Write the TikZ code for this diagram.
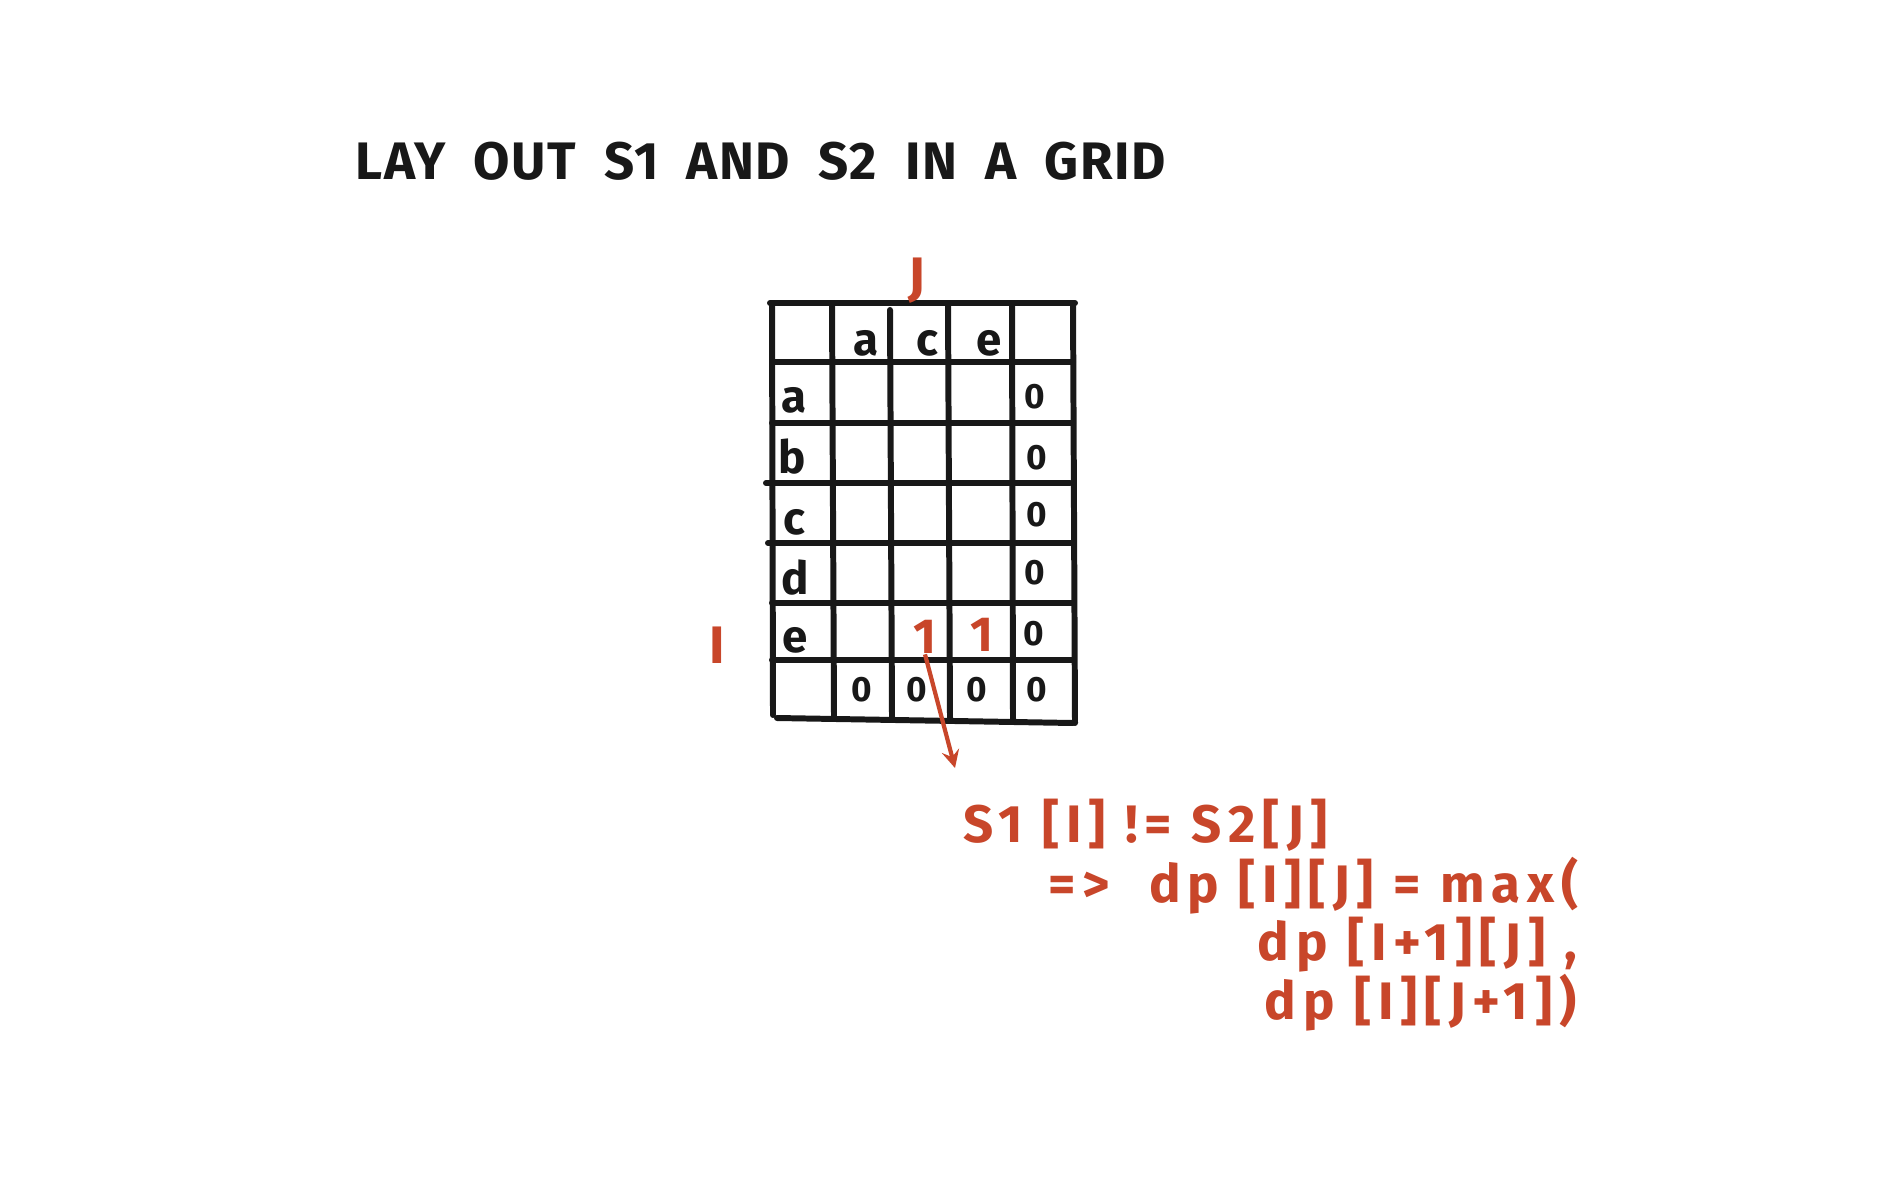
\documentclass[tikz,border=0pt]{standalone}
\usepackage{fontspec}
\setmainfont{Fira Sans}
\newfontfamily\handfont[LetterSpace=13]{Fira Sans}
\newfontfamily\headfont[LetterSpace=3]{Fira Sans}
\usepackage{xcolor}
\usetikzlibrary{arrows,positioning}
\definecolor{inkred}{RGB}{200,70,42}
\definecolor{inkblack}{RGB}{24,24,24}

\begin{document}
\begin{tikzpicture}[
    x=0.01cm, y=-0.01cm,
    title/.style={font=\headfont\fontsize{15}{18}\selectfont\bfseries, text=inkblack, inner sep=0pt, anchor=west},
    cellchar/.style={font=\fontsize{13}{15}\selectfont\bfseries, text=inkblack, inner sep=0pt},
    zero/.style={font=\fontsize{10}{12}\selectfont\bfseries, text=inkblack, inner sep=0pt},
    hit/.style={font=\fontsize{14}{16}\selectfont\bfseries, text=inkred, inner sep=0pt},
    index/.style={font=\fontsize{15}{18}\selectfont\bfseries, text=inkred, inner sep=0pt},
    note/.style={font=\handfont\fontsize{15}{18}\selectfont\bfseries, text=inkred, inner sep=0pt, anchor=west},
    gridline/.style={line width=1.7pt, draw=inkblack, line cap=round},
    arrow/.style={->, >=stealth, line width=1.2pt, draw=inkred}
]

\useasboundingbox (0,0) rectangle (1900,1200);

% Title
\node[title] (heading) at (355,161) {LAY\ \ OUT\ \ S1\ \ AND\ \ S2\ \ IN\ \ A\ \ GRID};

% Grid lines
\draw[gridline] (770,303) -- (1075,303);
\draw[gridline] (772,362) -- (1073,362);
\draw[gridline] (772,423) -- (1073,423);
\draw[gridline] (766,483) -- (1070,483);
\draw[gridline] (768,543) -- (1073,543);
\draw[gridline] (772,603) -- (1073,603);
\draw[gridline] (772,660) -- (1073,660);
\draw[gridline] (777,718) -- (1073,723);
\draw[gridline] (772,303) -- (773,715);
\draw[gridline] (832,305) -- (834,717);
\draw[gridline] (890,310) -- (892,717);
\draw[gridline] (948,303) -- (950,718);
\draw[gridline] (1012,305) -- (1013,720);
\draw[gridline] (1073,303) -- (1075,723);

% Column letters (s2)
\node[cellchar] (ca) at (866,343) {a};
\node[cellchar] (cc) at (927,343) {c};
\node[cellchar] (ce) at (989,343) {e};

% Row letters (s1)
\node[cellchar] (ra) at (794,400) {a};
\node[cellchar] (rb) at (792,457) {b};
\node[cellchar] (rc) at (794,522) {c};
\node[cellchar] (rd) at (795,578) {d};
\node[cellchar] (re) at (795,640) {e};

% Base cases
\node[zero] (z1) at (1035,397) {0};
\node[zero] (z2) at (1037,458) {0};
\node[zero] (z3) at (1037,515) {0};
\node[zero] (z4) at (1035,573) {0};
\node[zero] (z5) at (1034,634) {0};
\node[zero] (z6) at (1037,690) {0};
\node[zero] (z7) at (862,690) {0};
\node[zero] (z8) at (917,690) {0};
\node[zero] (z9) at (977,690) {0};

% Filled cells
\node[hit] (one) at (925,637) {1};
\node[hit] (onenext) at (982,635) {1};

% Index labels
\node[index] (jlabel) at (917,281) {J};
\node[index] (ilabel) at (717,645) {I};

% Recurrence
\node[note] (cond) at (963,825) {S1 [I] != S2[J]};
\node[note] (rule) at (1048,886) {=>\ \ dp [I][J] = max(};
\node[note] (argA) at (1257,945) {dp [I+1][J] ,};
\node[note] (argB) at (1264,1003) {dp [I][J+1])};

\coordinate (tip) at (955,768);
\draw[arrow] (one.south) -- (tip);

\end{tikzpicture}
\end{document}
